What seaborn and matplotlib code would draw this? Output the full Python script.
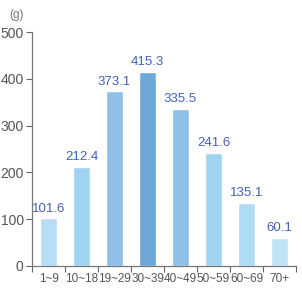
import numpy as np
import matplotlib.pyplot as plt
import seaborn as sns
from matplotlib.ticker import FixedLocator

# data
ages = ["1~9", "10~18", "19~29", "30~39", "40~49", "50~59", "60~69", "70+"]
grams = [101.6, 212.4, 373.1, 415.3, 335.5, 241.6, 135.1, 60.1]
bar_colors = ["#b7def5", "#9fd4f1", "#8fc0e7", "#6ea8d9", "#8fc0e7", "#9fd4f1", "#b0dbf4", "#bfe3f7"]

sns.set_style("white")
plt.rcParams['font.family'] = ['Liberation Sans', 'DejaVu Sans']

fig = plt.figure(figsize=(3.02, 2.91), dpi=100)
ax = fig.add_axes([0.106, 0.086, 0.874, 0.804])

sns.barplot(x=ages, y=grams, hue=ages, palette=bar_colors, legend=False,
            width=0.5, saturation=1, ax=ax)

for i, v in enumerate(grams):
    ax.text(i, v + 8, f"{v:.1f}", ha="center", va="bottom", fontsize=9.5, color="#4262b4")

ax.set_ylim(0, 500)
ax.set_xlim(-0.5, len(ages) - 0.5)
ax.set_yticks([0, 100, 200, 300, 400, 500])
ax.tick_params(axis="y", which="major", length=4, width=0.8, color="#666666",
               labelsize=10, labelcolor="#555555", pad=2, left=True)
ax.tick_params(axis="x", which="major", length=0, pad=5, labelsize=8.5, labelcolor="#555555")
ax.xaxis.set_minor_locator(FixedLocator(np.arange(-0.5, len(ages), 1)))
ax.tick_params(axis="x", which="minor", length=4, width=0.8, color="#666666", bottom=True)

for s in ["top", "right"]:
    ax.spines[s].set_visible(False)
for s in ["left", "bottom"]:
    ax.spines[s].set_color("#777777")
    ax.spines[s].set_linewidth(0.9)

fig.text(0.03, 0.948, "(g)", fontsize=8.5, color="#777777", ha="left", va="center")

fig.savefig("out.png", dpi=100)
